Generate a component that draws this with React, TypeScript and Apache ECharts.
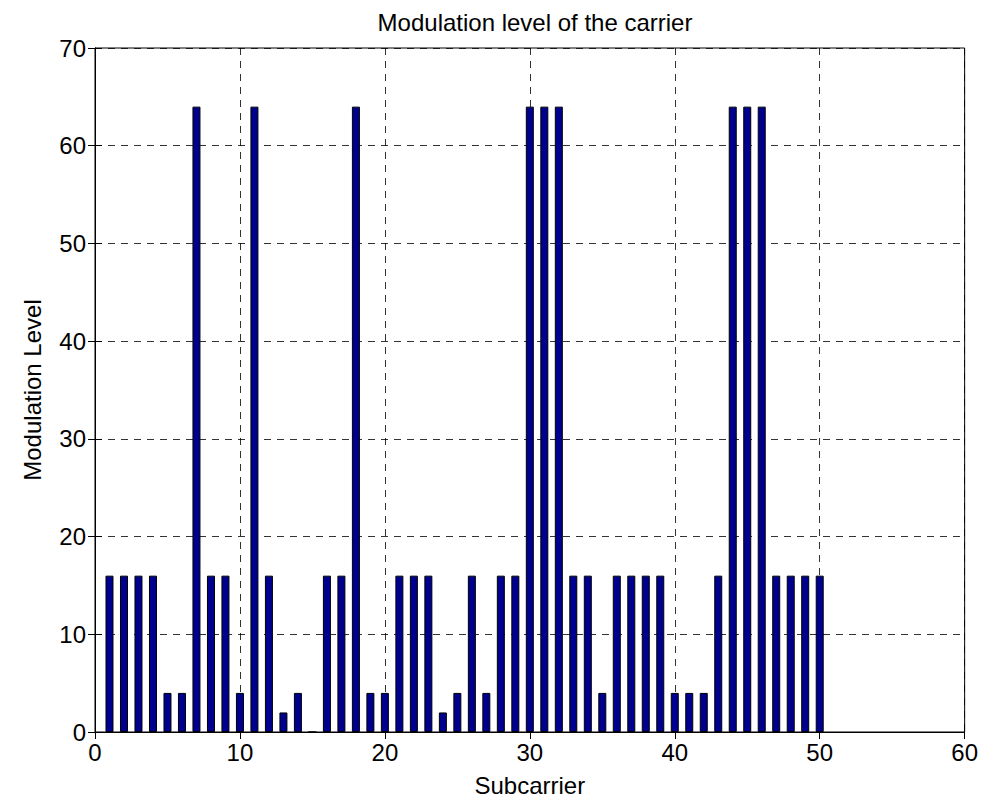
import React, { useEffect, useRef } from "react";
import * as echarts from "echarts";

// Subcarrier indices 1..50 and the modulation level assigned to each
const subcarriers: number[] = Array.from({ length: 50 }, (_, i) => i + 1);
const levels: number[] = [
  16, 16, 16, 16, 4, 4, 64, 16, 16, 4,
  64, 16, 2, 4, 0, 16, 16, 64, 4, 4,
  16, 16, 16, 2, 4, 16, 4, 16, 16, 64,
  64, 64, 16, 16, 4, 16, 16, 16, 16, 4,
  4, 4, 16, 64, 64, 64, 16, 16, 16, 16,
];

const FONT = "Liberation Sans, Arial, Helvetica, sans-serif";
const FS = 24;

export default function App() {
  const ref = useRef<HTMLDivElement>(null);

  useEffect(() => {
    if (!ref.current) return;
    const chart = echarts.init(ref.current, null, { renderer: "svg" });
    const gridLine = {
      show: true,
      lineStyle: { color: "#000", type: [7, 6] as any, width: 1, opacity: 0.8 },
    };
    const tick = { show: true, inside: true, length: 7, lineStyle: { color: "#000" } };
    chart.setOption({
      animation: false,
      backgroundColor: "#fff",
      title: {
        text: "Modulation level of the carrier",
        left: 530,
        textAlign: "center",
        top: 5,
        textStyle: { fontFamily: FONT, fontSize: FS, fontWeight: "normal", color: "#000" },
      },
      grid: {
        left: 95,
        right: 16,
        top: 48,
        bottom: 69,
        show: true,
        borderColor: "#000",
        borderWidth: 1,
        backgroundColor: "#fff",
      },
      xAxis: [
        {
          type: "value",
          min: 0,
          max: 60,
          interval: 10,
          name: "Subcarrier",
          nameLocation: "middle",
          nameGap: 41,
          nameTextStyle: { fontFamily: FONT, fontSize: FS, color: "#000" },
          axisLine: { show: true, lineStyle: { color: "#000" } },
          axisTick: tick,
          axisLabel: { fontFamily: FONT, fontSize: FS, color: "#000", margin: 8 },
          splitLine: gridLine,
        },
        {
          type: "value",
          position: "top",
          min: 0,
          max: 60,
          interval: 10,
          axisLine: { show: true, lineStyle: { color: "#000" } },
          axisTick: tick,
          axisLabel: { show: false },
          splitLine: { show: false },
        },
      ],
      yAxis: [
        {
          type: "value",
          min: 0,
          max: 70,
          interval: 10,
          name: "Modulation Level",
          nameLocation: "middle",
          nameGap: 51,
          nameTextStyle: { fontFamily: FONT, fontSize: FS, color: "#000" },
          axisLine: { show: true, lineStyle: { color: "#000" } },
          axisTick: tick,
          axisLabel: { fontFamily: FONT, fontSize: FS, color: "#000", margin: 9 },
          splitLine: gridLine,
        },
        {
          type: "value",
          position: "right",
          min: 0,
          max: 70,
          interval: 10,
          axisLine: { show: true, lineStyle: { color: "#000" } },
          axisTick: tick,
          axisLabel: { show: false },
          splitLine: { show: false },
        },
      ],
      series: [
        {
          type: "bar",
          xAxisIndex: 0,
          yAxisIndex: 0,
          barWidth: 8,
          data: subcarriers.map((s, i) => [s, levels[i]]),
          itemStyle: { color: "#00008F", borderColor: "#000", borderWidth: 1 },
        },
      ],
    });
    return () => chart.dispose();
  }, []);

  return (
    <div
      ref={ref}
      style={{ position: "fixed", left: 0, top: 0, width: 981, height: 802 }}
    />
  );
}
